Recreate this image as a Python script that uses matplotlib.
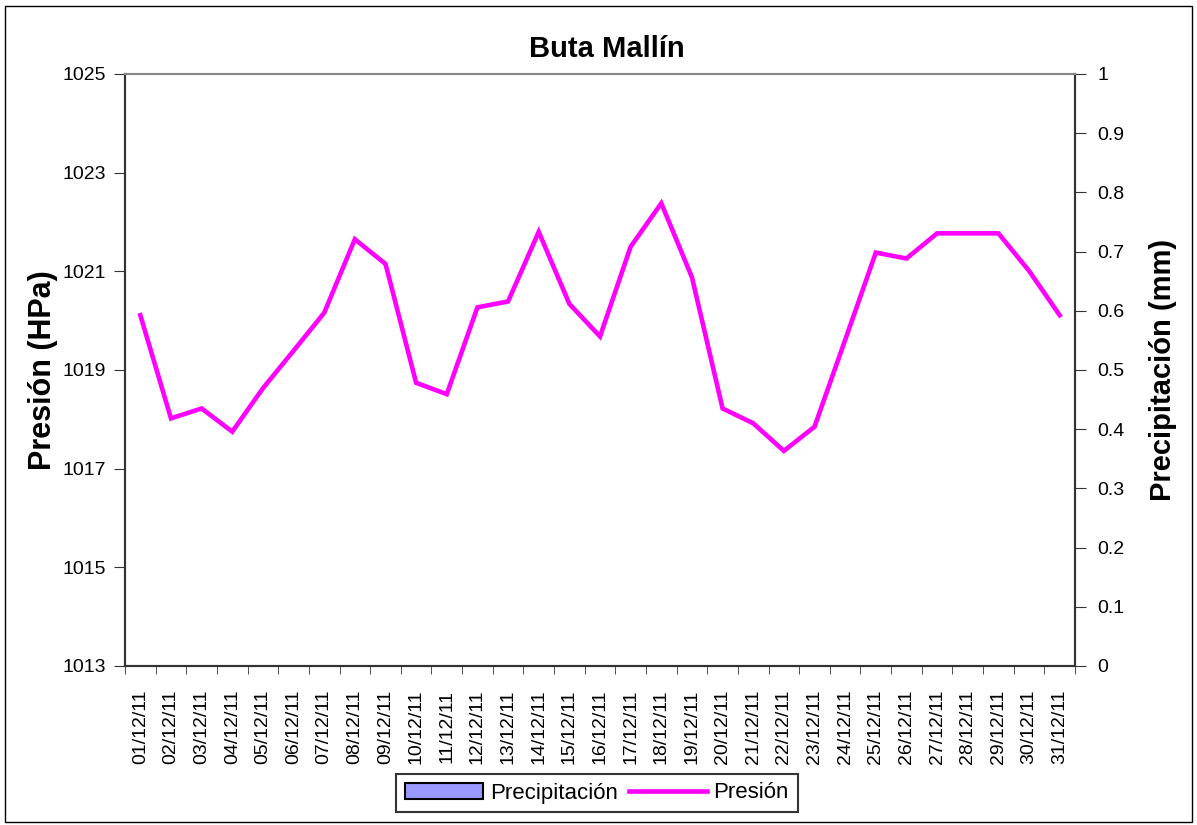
import matplotlib
matplotlib.use("Agg")
import matplotlib.pyplot as plt
from matplotlib.patches import Rectangle, Patch
from matplotlib.lines import Line2D
import numpy as np

plt.rcParams['font.family'] = ['Liberation Sans', 'DejaVu Sans']

dates = [f"{d:02d}/12/11" for d in range(1, 32)]
presion = [1020.11, 1018.02, 1018.22, 1017.75, 1018.63, 1019.39, 1020.16, 1021.65,
           1021.15, 1018.74, 1018.51, 1020.27, 1020.39, 1021.80, 1020.34, 1019.68,
           1021.50, 1022.38, 1020.88, 1018.22, 1017.92, 1017.36, 1017.85, 1019.61,
           1021.38, 1021.26, 1021.77, 1021.77, 1021.77, 1021.01, 1020.11]
precipitacion = [0.0] * 31

W, H = 1197, 825
fig = plt.figure(figsize=(W / 100, H / 100), dpi=100)
fig.patches.append(Rectangle((5 / W, 1 - 822 / H), (W - 10) / W, (822 - 6) / H,
                             transform=fig.transFigure, fill=False, edgecolor='black', lw=1))

ax = fig.add_axes([125 / W, 1 - 666 / H, 950 / W, 592 / H])
ax2 = ax.twinx()

x = np.arange(len(dates))
ax2.bar(x, precipitacion, width=0.5, color='#9999FF', edgecolor='black')
ax.plot(x, presion, color='#FF00FF', lw=3.3, solid_joinstyle='miter')
ax.set_zorder(ax2.get_zorder() + 1)
ax.patch.set_visible(False)

ax.set_xlim(-0.5, len(dates) - 0.5)
ax.set_ylim(1013, 1025)
ax.set_yticks(np.arange(1013, 1026, 2))
ax2.set_ylim(0, 1)
ax2.set_yticks(np.round(np.arange(0, 1.01, 0.1), 1))
ax2.set_yticklabels(['0'] + [f"{v:.1f}" for v in np.arange(0.1, 0.95, 0.1)] + ['1'])

ax.set_xticks(x)
ax.set_xticklabels(dates, rotation=90, fontsize=14)
ax.set_xticks(np.arange(-0.5, len(dates), 1), minor=True)
ax.tick_params(axis='x', which='major', length=0, pad=17)
ax.tick_params(axis='x', which='minor', length=6, direction='out', color='#333333')
ax.tick_params(axis='y', labelsize=14, length=8, direction='out', color='#333333', pad=6)
ax2.tick_params(axis='y', labelsize=14, length=8, direction='out', color='#333333', pad=8)

for a in (ax, ax2):
    a.spines['top'].set_color('#888888')
    a.spines['top'].set_linewidth(1.5)
    for s in ('left', 'right', 'bottom'):
        a.spines[s].set_color('#333333')
        a.spines[s].set_linewidth(1.5)

ax.set_title('Buta Mallín', fontsize=21, fontweight='bold', pad=12, x=0.507)
ax.set_ylabel('Presión (HPa)', fontsize=22, fontweight='bold', labelpad=3)
ax2.set_ylabel('Precipitación (mm)', fontsize=21, fontweight='bold', labelpad=18)

handles = [Patch(facecolor='#9999FF', edgecolor='black', lw=1.5),
           Line2D([0], [0], color='#FF00FF', lw=3.3)]
leg = fig.legend(handles, ['Precipitación', 'Presión'], loc='center',
                 bbox_to_anchor=(597 / W, 1 - 793 / H), ncol=2, fontsize=16,
                 frameon=True, fancybox=False, edgecolor='black', handlelength=3.5,
                 columnspacing=0.5, handletextpad=0.3, borderpad=0.4)
leg.get_frame().set_linewidth(1.5)

fig.savefig('out.png', dpi=100)
